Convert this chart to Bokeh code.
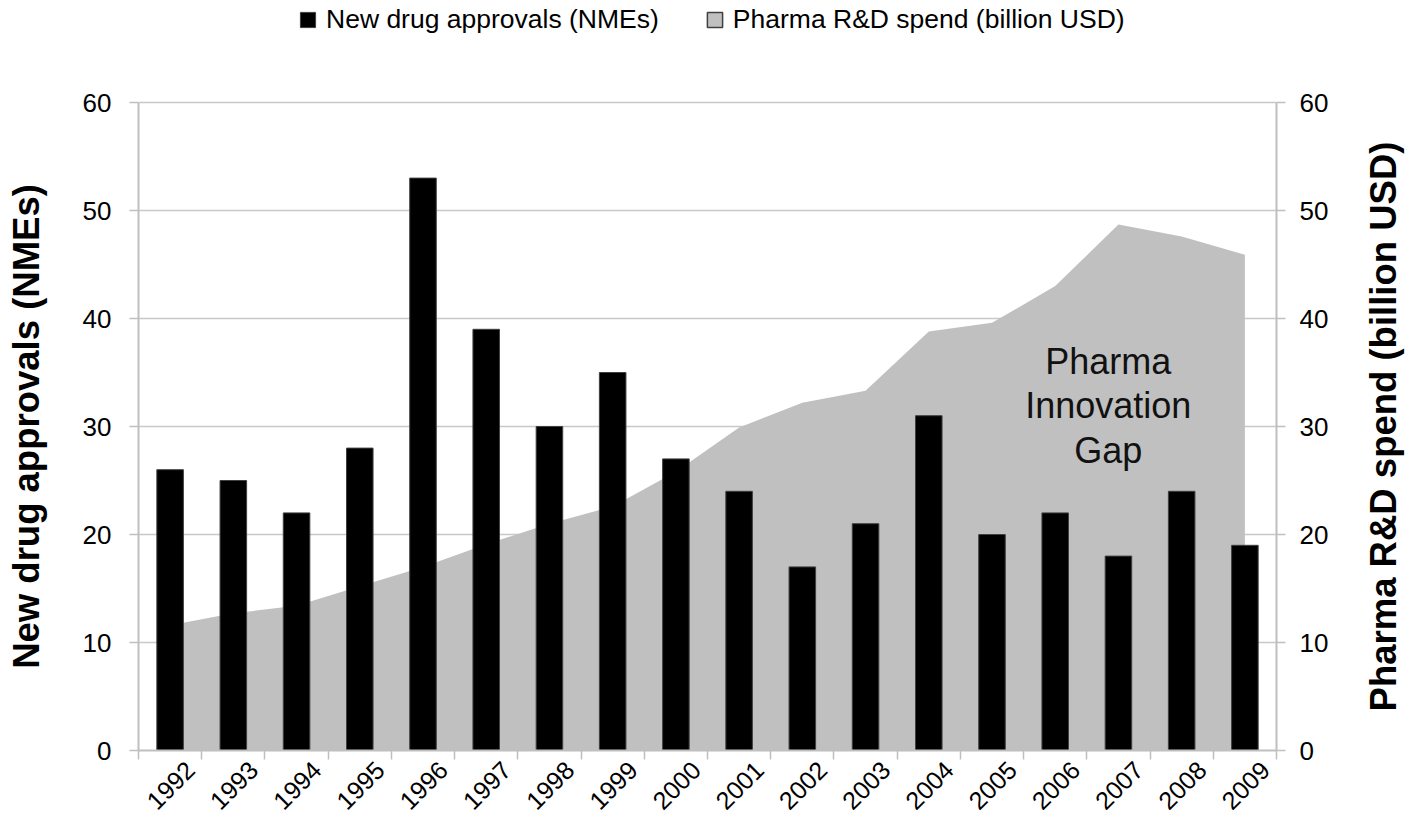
import math
from bokeh.plotting import figure
from bokeh.models import (Range1d, LinearAxis, FixedTicker, Legend, LegendItem,
                          Label, ColumnDataSource)
from bokeh.embed import file_html
from bokeh.resources import INLINE

# ---- data -----------------------------------------------------------------
years = [str(y) for y in range(1992, 2010)]
nme_approvals = [26, 25, 22, 28, 53, 39, 30, 35, 27, 24, 17, 21, 31, 20, 22, 18, 24, 19]
rd_spend = [11.6, 12.7, 13.4, 15.2, 17.0, 19.1, 21.0, 22.6, 25.8, 29.9,
            32.2, 33.3, 38.8, 39.6, 43.0, 48.7, 47.6, 45.9]
y_ticks = [0, 10, 20, 30, 40, 50, 60]
annotation_lines = ["Pharma", "Innovation", "Gap"]

FONT = "Liberation Sans"
AXIS_GREY = "#bfbfbf"
n = len(years)
xpos = [i + 0.5 for i in range(n)]

# frame spans the full height above the x axis; the 0-60 scale occupies the
# lower 648 px, the remaining 102 px above hold the legend
Y_TOP = 60 * 750 / 648

p = figure(frame_width=1138, frame_height=750,
           min_border_left=138, min_border_right=136,
           min_border_top=0, min_border_bottom=69,
           x_range=Range1d(0, n), y_range=Range1d(0, Y_TOP),
           output_backend="svg", toolbar_location=None)
p.extra_y_ranges = {"rd": Range1d(0, Y_TOP)}
p.outline_line_color = None
p.background_fill_color = "white"
p.border_fill_color = "white"

src = ColumnDataSource(dict(x=xpos, year=years, nme=nme_approvals, rd=rd_spend))

area = p.varea(x="x", y1=0, y2="rd", source=src, fill_color="#c0c0c0",
               y_range_name="rd")
bars = p.vbar(x="x", top="nme", width=0.42, source=src, fill_color="black",
              line_color="#404040", line_width=1)
# legend key for the area series (outlined swatch; hidden on the plot)
swatch = p.vbar(x="x", top="rd", width=0.42, source=src,
                fill_color="#c0c0c0", line_color="#404040", line_width=1.5,
                y_range_name="rd", visible=False)

# ---- x axis ---------------------------------------------------------------
xa = p.xaxis[0]
label_shift = 0.32
tick_pos = [round(i + 0.5 + label_shift, 2) for i in range(n)]
xa.ticker = FixedTicker(ticks=tick_pos, minor_ticks=list(range(n + 1)))
xa.major_label_overrides = {t: yr for t, yr in zip(tick_pos, years)}
xa.major_tick_line_color = None
xa.major_tick_out = 0
xa.major_tick_in = 0
xa.minor_tick_line_color = AXIS_GREY
xa.minor_tick_line_width = 1.5
xa.minor_tick_out = 9
xa.minor_tick_in = 0
xa.axis_line_color = AXIS_GREY
xa.axis_line_width = 2
xa.major_label_orientation = math.pi / 4
xa.major_label_text_font = FONT
xa.major_label_text_font_size = "25px"
xa.major_label_text_color = "black"
xa.major_label_standoff = 6

# ---- y axes ---------------------------------------------------------------
def style_y(ax, standoff):
    ax.ticker = FixedTicker(ticks=y_ticks)
    ax.bounds = (0, 60)
    ax.axis_line_color = AXIS_GREY
    ax.axis_line_width = 2
    ax.major_tick_line_color = AXIS_GREY
    ax.major_tick_line_width = 1.5
    ax.major_tick_out = 9
    ax.major_tick_in = 0
    ax.minor_tick_line_color = None
    ax.major_label_text_font = FONT
    ax.major_label_text_font_size = "26px"
    ax.major_label_text_color = "black"
    ax.major_label_standoff = standoff

style_y(p.yaxis[0], 18)
ra = LinearAxis(y_range_name="rd")
style_y(ra, 14)
p.add_layout(ra, "right")

p.xgrid.visible = False
p.ygrid.ticker = FixedTicker(ticks=y_ticks)
p.ygrid.grid_line_color = "#c8c8c8"
p.ygrid.grid_line_width = 1.5

# ---- axis titles (side-panel labels, both reading upward) -----------------
title_style = dict(x_units="screen", y_units="screen", angle=math.pi / 2,
                   text_align="center", text_baseline="middle",
                   text_font=FONT, text_font_style="bold",
                   text_font_size="36.5px", text_color="black")
p.add_layout(Label(x=-12, y=324, text="New drug approvals (NMEs)",
                   **title_style), "left")
p.add_layout(Label(x=52, y=324, text="Pharma R&D spend (billion USD)",
                   **title_style), "right")

# ---- annotation -----------------------------------------------------------
for line, yv in zip(annotation_lines, [36.0, 31.9, 27.8]):
    p.add_layout(Label(x=15.34, y=yv, text=line, text_align="center",
                       text_baseline="alphabetic", text_font=FONT,
                       text_font_size="36px", text_color="#111111"))

# ---- legend ---------------------------------------------------------------
legend = Legend(items=[
    LegendItem(label="New drug approvals (NMEs)", renderers=[bars]),
    LegendItem(label="Pharma R&D spend (billion USD)", renderers=[swatch]),
], orientation="horizontal", location=(160, 715),
    glyph_width=19, glyph_height=19, label_standoff=9, spacing=46,
    padding=0, margin=0, border_line_color=None, background_fill_alpha=0,
    label_text_font=FONT, label_text_font_size="26.5px",
    label_text_color="black")
p.add_layout(legend, "center")

open("out.html", "w").write(file_html(p, INLINE))
